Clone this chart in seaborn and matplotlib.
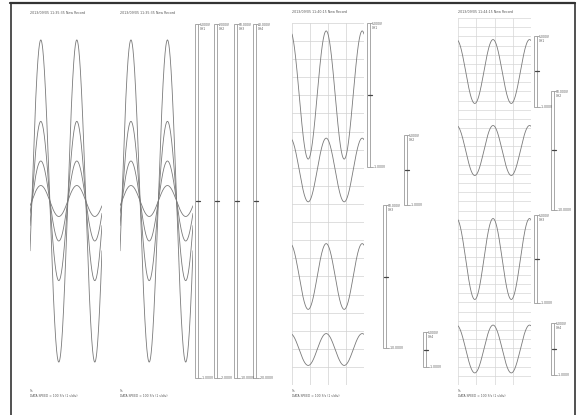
import numpy as np
import pandas as pd
import matplotlib
matplotlib.use('Agg')
import matplotlib.pyplot as plt
from matplotlib.lines import Line2D
from matplotlib.patches import Rectangle
import seaborn as sns

# recorder settings: 100 S/s, 1 s/div, 4 div per trace
times = np.arange(0, 401) / 100.0
period_s = 2.0

# record 1 and 2 (channels overlaid, no grid)
ab_headers = ['2013/09/05 11:35:35 New Record', '2013/09/05 11:35:35 New Record']
ab_channels = ['CH1', 'CH2', 'CH3', 'CH4']
ab_ranges = [1.0, 2.0, 10.0, 20.0]      # V full scale
ab_amps = [0.91, 0.90, 2.26, 1.75]       # V peak
ab_peak_t = 0.6

# record 3 (separate channel bands, coarse grid)
c_header = '2013/09/05 11:40:15 New Record'
c_channels = ['CH1', 'CH2', 'CH3', 'CH4']
c_ranges = [1.0, 1.0, 10.0, 1.0]
c_amps = [0.89, 0.91, 4.6, 0.91]
c_peak_t = 1.9

# record 4 (separate channel bands, fine grid)
d_header = '2013/09/05 11:44:15 New Record'
d_channels = ['CH1', 'CH2', 'CH3', 'CH4']
d_ranges = [1.0, 10.0, 1.0, 1.0]
d_amps = [0.90, 4.2, 0.92, 0.92]
d_peak_t = 1.92

footer_1 = '5s'
footer_2 = 'DATA SPEED = 100 S/s (1 s/div)'

sns.set_theme(style='white')
plt.rcParams['font.family'] = ['DejaVu Sans']

W, H = 579, 415
fig = plt.figure(figsize=(W / 100, H / 100), dpi=100)
fig.patch.set_facecolor('white')

WAVE = '#7a7a7a'
TXT = '#555555'
BAR = '#9a9a9a'


def rect(x0, y0, x1, y1):
    return [x0 / W, 1 - y1 / H, (x1 - x0) / W, (y1 - y0) / H]


def fx(x):
    return x / W


def fy(y):
    return 1 - y / H


def blank_axes(r):
    ax = fig.add_axes(r)
    ax.set_axis_off()
    ax.patch.set_alpha(0)
    ax.set_xlim(0, 4)
    return ax


def wave_df(amp, rng, peak_t):
    v = amp * np.cos(2 * np.pi * (times - peak_t) / period_s)
    return pd.DataFrame({'t': times, 'v': v / rng})


def scale_bar(x, y0, y1, rng, ch):
    fig.add_artist(Rectangle((fx(x), fy(y1)), 3 / W, (y1 - y0) / H,
                             transform=fig.transFigure, fill=False,
                             edgecolor=BAR, lw=0.6))
    fig.add_artist(Line2D([fx(x + 3), fx(x + 5)], [fy(y0), fy(y0)], color=BAR, lw=0.6))
    fig.add_artist(Line2D([fx(x + 3), fx(x + 6)], [fy(y1), fy(y1)], color=BAR, lw=0.6))
    yc = (y0 + y1) / 2
    fig.add_artist(Line2D([fx(x + 1), fx(x + 5)], [fy(yc), fy(yc)], color='#444444', lw=0.9))
    fig.text(fx(x + 5), fy(y0 - 1), '%.3fV\n%s' % (rng, ch), fontsize=2.2,
             color=TXT, va='top', ha='left', linespacing=1.0)
    fig.text(fx(x + 6.5), fy(y1), '-%.3fV' % rng, fontsize=2.2,
             color=TXT, va='center', ha='left')


def header(x, y, s):
    fig.text(fx(x), fy(y), s, fontsize=2.3, color=TXT, va='center', ha='left')


def footer(x):
    fig.text(fx(x), fy(391), footer_1, fontsize=2.2, color=TXT, va='center', ha='left')
    fig.text(fx(x), fy(396), footer_2, fontsize=2.2, color=TXT, va='center', ha='left')


# page frame
fig.add_artist(Line2D([fx(10), fx(575)], [fy(3), fy(3)], color='#333333', lw=1.6))
fig.add_artist(Line2D([fx(10.5), fx(10.5)], [fy(3), fy(416)], color='#333333', lw=1.2))
fig.add_artist(Line2D([fx(575), fx(575)], [fy(3), fy(416)], color='#333333', lw=1.2))

# records 1 and 2
for (x0, x1), hdr in zip([(30, 102), (120, 193)], ab_headers):
    ax = blank_axes(rect(x0, 24, x1, 378))
    ax.set_ylim(-1, 1)
    for amp, rng in zip(ab_amps, ab_ranges):
        sns.lineplot(data=wave_df(amp, rng, ab_peak_t), x='t', y='v', ax=ax,
                     color=WAVE, lw=0.6, estimator=None)
    header(x0, 13, hdr)
    footer(x0)

for bx, rng, ch in zip([195, 214, 234, 253], ab_ranges, ab_channels):
    scale_bar(bx, 24, 378, rng, ch)

# record 3
gx = fig.add_axes(rect(292, 23, 364, 385))
gx.set_xlim(0, 4)
gx.set_ylim(0, 20)
gx.set_xticks(np.arange(0, 5))
gx.set_yticks(np.arange(0, 21))
gx.tick_params(length=0, labelbottom=False, labelleft=False)
gx.grid(True, color='#d2d2d2', lw=0.5)
for s in gx.spines.values():
    s.set_visible(False)

c_bands = [(23, 167), (135, 205), (205, 348), (332, 367)]
c_bar_x = [367, 404, 383, 423]
for (y0, y1), bx, amp, rng, ch in zip(c_bands, c_bar_x, c_amps, c_ranges, c_channels):
    ax = blank_axes(rect(292, y0, 364, y1))
    ax.set_ylim(-1, 1)
    sns.lineplot(data=wave_df(amp, rng, c_peak_t), x='t', y='v', ax=ax,
                 color=WAVE, lw=0.6, estimator=None)
    scale_bar(bx, y0, y1, rng, ch)
header(292, 12, c_header)
footer(292)

# record 4
gx = fig.add_axes(rect(458, 18, 531, 385))
gx.set_xlim(0, 4)
gx.set_ylim(0, 40)
gx.set_xticks(np.arange(0, 5))
gx.set_yticks(np.arange(0, 41))
gx.tick_params(length=0, labelbottom=False, labelleft=False)
gx.grid(True, color='#d6d6d6', lw=0.5)
for s in gx.spines.values():
    s.set_visible(False)

d_bands = [(36, 107), (91, 210), (215, 303), (323, 375)]
d_bar_x = [534, 551, 534, 551]
for (y0, y1), bx, amp, rng, ch in zip(d_bands, d_bar_x, d_amps, d_ranges, d_channels):
    ax = blank_axes(rect(458, y0, 531, y1))
    ax.set_ylim(-1, 1)
    sns.lineplot(data=wave_df(amp, rng, d_peak_t), x='t', y='v', ax=ax,
                 color=WAVE, lw=0.6, estimator=None)
    scale_bar(bx, y0, y1, rng, ch)
header(458, 12, d_header)
footer(458)

fig.savefig('out.png', dpi=100)
